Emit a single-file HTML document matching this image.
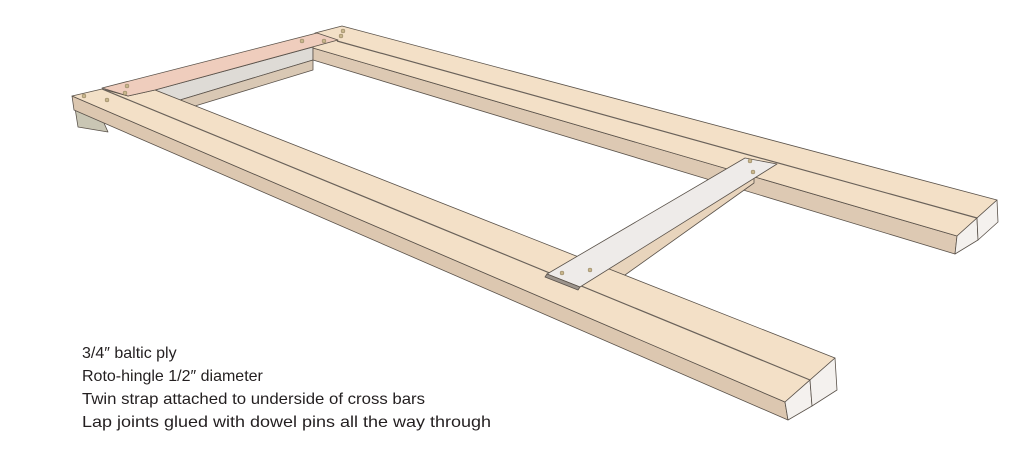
<!DOCTYPE html>
<html><head><meta charset="utf-8"><style>
html,body{margin:0;padding:0;background:#fff;width:1024px;height:451px;overflow:hidden}
svg{display:block}
text{font-family:"Liberation Sans",sans-serif;font-size:16px;fill:#231f20}
</style></head><body>
<svg width="1024" height="451" viewBox="0 0 1024 451" xmlns="http://www.w3.org/2000/svg">
<g stroke="#5a524a" stroke-width="0.8" stroke-linejoin="round">
<!-- left underside block -->
<polygon points="75,108 100,114 108,132 78,127" fill="#c9c6b4"/>
<!-- inner gray face under pink rail -->
<polygon points="155,90 313,47 313,60 180,100" fill="#dedbd6"/>
<polygon points="180,100 313,60 313,70 195,106" fill="#d9c8b4"/>
<!-- back rail side face (inner) -->
<polygon points="313,48 957,236 955,254 313,60" fill="#ddc9b3"/>
<!-- back rail top -->
<polygon points="315,33 342,26 997,200 957,236 313,48" fill="#f3e0c7"/>
<line x1="337" y1="41" x2="977" y2="218" stroke="#6a625a" stroke-width="1.2"/>
<!-- back rail end faces -->
<polygon points="957,236 977,218 978,240 955,254" fill="#f4f1ee"/>
<polygon points="977,218 997,200 998,222 978,240" fill="#f4f1ee"/>
<!-- cross bar under strap -->
<polygon points="754,168 754,183 625,275 600,272" fill="#e8d4bc"/>
<!-- front rail side face -->
<polygon points="72,96 785,402 788,420 74,110" fill="#dcc7b0"/>
<!-- front rail top -->
<polygon points="72,96 102,89 128,96 155,90 835,358 785,402" fill="#f3e0c7"/>
<line x1="102" y1="89" x2="810" y2="380" stroke="#6a625a" stroke-width="1.2"/>
<!-- front rail end faces -->
<polygon points="785,402 810,380 812,406 788,420" fill="#f4f1ee"/>
<polygon points="810,380 835,358 837,390 812,406" fill="#f4f1ee"/>
<!-- pink cross rail -->
<polygon points="102,88 317,33 338,40 155,90 128,96" fill="#efcdbd"/>
<!-- strap -->
<polygon points="745,158 777,164 580,287 547,274" fill="#eeebe9"/>
<polygon points="547,274 580,287 578,290 545,277" fill="#9c948c"/>
</g>
<g fill="#c8b68c" stroke="#8a7a5a" stroke-width="0.5">
<circle cx="84" cy="96" r="2"/><circle cx="107" cy="100" r="2"/>
<circle cx="127" cy="86" r="2"/><circle cx="125" cy="93" r="2"/>
<circle cx="302" cy="41" r="2"/><circle cx="324" cy="41" r="2"/>
<circle cx="343" cy="31" r="2"/><circle cx="341" cy="36" r="2"/>
<circle cx="750" cy="161" r="2"/><circle cx="753" cy="172" r="2"/>
<circle cx="562" cy="273" r="2"/><circle cx="590" cy="270" r="2"/>
</g>
<text x="82" y="358">3/4″ baltic ply</text>
<text x="82" y="381">Roto-hingle 1/2″ diameter</text>
<text x="82" y="404" textLength="343" lengthAdjust="spacingAndGlyphs">Twin strap attached to underside of cross bars</text>
<text x="82" y="427" textLength="409" lengthAdjust="spacingAndGlyphs">Lap joints glued with dowel pins all the way through</text>
</svg>
</body></html>
